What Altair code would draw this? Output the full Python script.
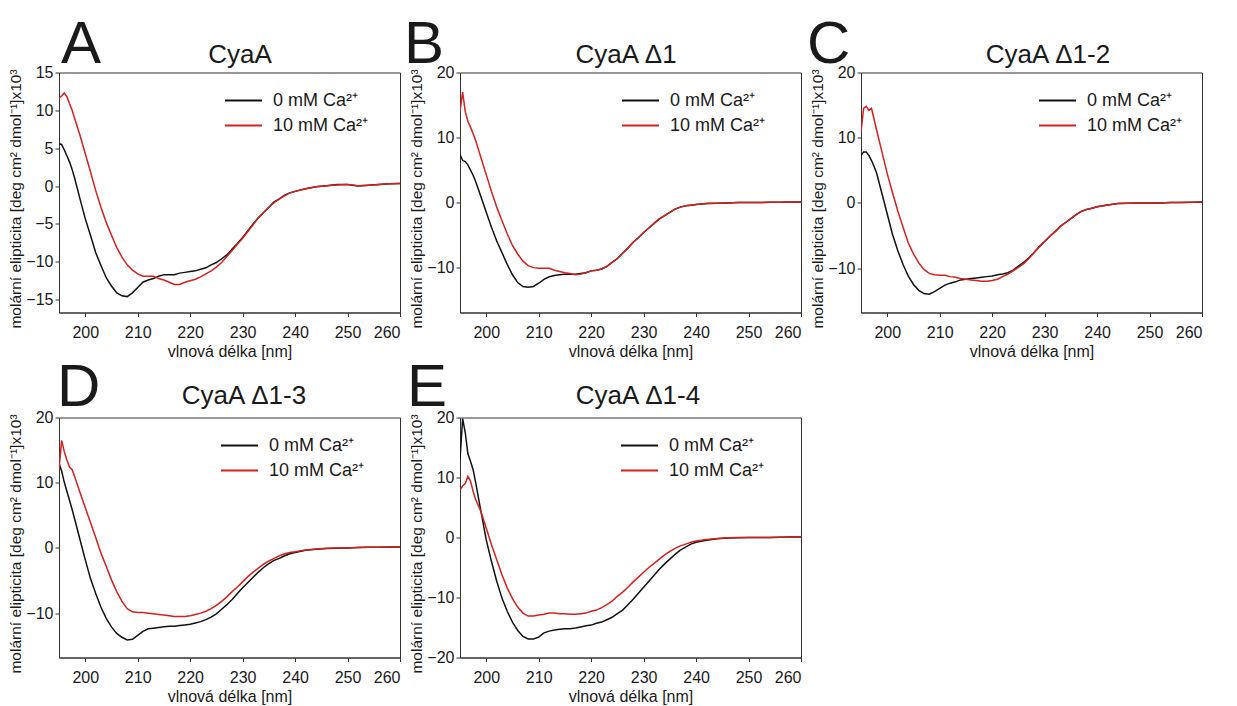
import altair as alt
import pandas as pd

FONT = "Liberation Sans"

WL = [195, 195.5, 196, 196.5, 197, 197.5,
      198, 199, 200, 201, 202, 203, 204, 205, 206, 207,
      208, 209, 210, 211, 212, 213, 214, 215, 216, 217,
      218, 219, 220, 221, 222, 223, 224, 225, 226, 227,
      228, 229, 230, 231, 232, 233, 234, 235, 236, 237,
      238, 239, 240,
      242, 244, 246, 248, 250, 252, 254, 256, 258, 260]

SERIES = ["0 mM Ca²⁺", "10 mM Ca²⁺"]
COLORS = ["#111111", "#d42020"]
XTICKS = [200, 210, 220, 230, 240, 250, 260]
XTITLE = "vlnová délka [nm]"
YTITLE = "molární elipticita [deg cm² dmol⁻¹]x10³"

# --- Panel A: CyaA ---
A0 = [5.6, 5.5, 4.8, 4.0, 3.2, 2.2,
      1.0, -1.7, -4.3, -6.5, -8.8, -10.5, -12.1, -13.2, -14.1, -14.5,
      -14.6, -14.1, -13.4, -12.7, -12.4, -12.2, -11.9, -11.7, -11.7, -11.7,
      -11.5, -11.4, -11.3, -11.2, -11.0, -10.8, -10.4, -10.1, -9.6, -9.1,
      -8.3, -7.6, -6.8, -5.9, -5.0, -4.2, -3.5, -2.8, -2.1, -1.7,
      -1.2, -0.9, -0.7,
      -0.35, -0.1, 0.05, 0.2, 0.2, 0.0, 0.1, 0.2, 0.3, 0.35]
A10 = [11.6, 11.9, 12.3, 11.8, 10.9, 10.0,
       8.9, 6.7, 4.3, 1.9, -0.6, -2.8, -4.8, -6.5, -8.1, -9.4,
       -10.4, -11.1, -11.6, -11.9, -11.9, -11.9, -12.2, -12.4, -12.7, -13.0,
       -13.0, -12.7, -12.5, -12.3, -12.0, -11.6, -11.2, -10.7, -10.1, -9.3,
       -8.5, -7.7, -6.9, -6.0, -5.1, -4.2, -3.5, -2.8, -2.2, -1.7,
       -1.3, -0.9, -0.7,
       -0.35, -0.1, 0.05, 0.15, 0.2, 0.05, 0.1, 0.2, 0.3, 0.35]

# --- Panel B: CyaA Δ1 ---
B0 = [7.4, 6.5, 6.3, 5.8, 5.0, 4.2,
      3.2, 0.9, -1.5, -3.8, -5.9, -7.7, -9.5, -11.1, -12.3, -12.9,
      -13.0, -12.9, -12.4, -11.8, -11.4, -11.2, -11.1, -11.0, -11.0, -11.0,
      -10.9, -10.8, -10.5, -10.4, -10.2, -9.8, -9.2, -8.6, -7.8, -7.0,
      -6.1, -5.4, -4.6, -3.9, -3.2, -2.5, -2.0, -1.5, -1.0, -0.7,
      -0.5, -0.4, -0.3,
      -0.15, -0.1, -0.05, 0.0, 0.0, 0.0, 0.05, 0.05, 0.1, 0.1]
B10 = [14.0, 17.0, 14.0, 12.5, 11.6, 10.6,
       9.5, 6.9, 4.3, 1.7, -0.7, -2.8, -4.8, -6.6, -7.9, -9.0,
       -9.7, -10.0, -10.1, -10.1, -10.1, -10.4, -10.6, -10.8, -10.9, -11.1,
       -11.0, -10.8, -10.5, -10.4, -10.2, -9.8, -9.2, -8.6, -7.8, -7.0,
       -6.1, -5.4, -4.6, -3.9, -3.2, -2.5, -2.0, -1.5, -1.0, -0.7,
       -0.5, -0.4, -0.3,
       -0.15, -0.1, -0.05, 0.0, 0.0, 0.0, 0.05, 0.05, 0.1, 0.1]

# --- Panel C: CyaA Δ1-2 ---
C0 = [7.3, 7.8, 7.8, 7.3, 6.5, 5.6,
      4.5, 1.4, -1.7, -4.8, -7.3, -9.4, -11.2, -12.5, -13.4, -13.9,
      -14.0, -13.6, -13.1, -12.6, -12.3, -12.1, -11.8, -11.7, -11.6, -11.5,
      -11.4, -11.3, -11.2, -11.0, -10.9, -10.7, -10.3, -9.7, -9.1, -8.4,
      -7.6, -6.7, -5.9, -5.1, -4.4, -3.6, -3.0, -2.4, -1.8, -1.3,
      -1.0, -0.8, -0.6,
      -0.3, -0.1, -0.05, 0.0, 0.0, 0.0, 0.05, 0.05, 0.1, 0.15]
C10 = [10.9, 14.5, 14.8, 14.2, 14.5, 12.8,
       11.1, 7.8, 4.5, 1.6, -1.2, -3.7, -6.1, -7.8, -9.2, -10.2,
       -10.8, -11.0, -11.1, -11.1, -11.3, -11.4, -11.6, -11.7, -11.8, -11.9,
       -12.0, -12.0, -11.9, -11.7, -11.3, -10.9, -10.4, -9.9, -9.3, -8.5,
       -7.6, -6.7, -5.9, -5.1, -4.4, -3.6, -3.0, -2.4, -1.8, -1.3,
       -1.0, -0.8, -0.6,
       -0.3, -0.1, -0.05, 0.0, 0.0, 0.0, 0.05, 0.05, 0.1, 0.15]

# --- Panel D: CyaA Δ1-3 ---
D0 = [13.0, 11.8, 10.1, 8.7, 7.3, 5.9,
      4.4, 1.3, -1.8, -4.7, -7.0, -9.1, -10.8, -12.1, -13.1, -13.7,
      -14.1, -14.0, -13.4, -12.8, -12.4, -12.3, -12.2, -12.1, -12.0, -12.0,
      -11.9, -11.8, -11.7, -11.5, -11.3, -11.0, -10.6, -10.1, -9.4, -8.7,
      -7.9, -7.0, -6.1, -5.3, -4.5, -3.7, -3.0, -2.4, -1.9, -1.6,
      -1.2, -0.9, -0.7,
      -0.35, -0.2, -0.1, -0.05, 0.0, 0.05, 0.1, 0.1, 0.15, 0.15]
D10 = [12.0, 16.5, 14.8, 13.5, 12.4, 12.0,
       10.9, 8.5, 6.2, 3.9, 1.6, -0.8, -2.8, -4.9, -6.7, -8.2,
       -9.3, -9.8, -9.9, -9.9, -10.0, -10.1, -10.2, -10.3, -10.4, -10.5,
       -10.5, -10.5, -10.4, -10.2, -10.0, -9.7, -9.3, -8.8, -8.2, -7.5,
       -6.7, -6.0, -5.2, -4.4, -3.7, -3.1, -2.5, -2.0, -1.6, -1.2,
       -0.9, -0.7, -0.6,
       -0.3, -0.15, -0.05, 0.0, 0.0, 0.05, 0.1, 0.1, 0.15, 0.15]

# --- Panel E: CyaA Δ1-4 ---
E0 = [13.0, 19.8, 17.5, 14.0, 12.7, 11.3,
      9.1, 4.3, -0.4, -4.0, -7.3, -10.1, -12.3, -14.1, -15.5, -16.5,
      -16.9, -16.9, -16.6, -15.9, -15.6, -15.4, -15.3, -15.2, -15.2, -15.1,
      -14.9, -14.7, -14.6, -14.3, -14.1, -13.7, -13.3, -12.7, -12.1, -11.2,
      -10.3, -9.3, -8.3, -7.3, -6.3, -5.3, -4.4, -3.6, -2.8, -2.1,
      -1.6, -1.1, -0.8,
      -0.45, -0.2, -0.1, -0.05, 0.0, 0.0, 0.0, 0.05, 0.1, 0.1]
E10 = [7.9, 8.6, 9.0, 10.2, 9.4, 7.7,
       6.3, 4.3, 1.6, -1.2, -3.7, -6.2, -8.4, -10.2, -11.6, -12.6,
       -13.1, -13.1, -12.9, -12.8, -12.6, -12.6, -12.7, -12.7, -12.8, -12.8,
       -12.7, -12.6, -12.3, -12.1, -11.7, -11.2, -10.6, -9.8, -9.1, -8.3,
       -7.4, -6.6, -5.8, -5.0, -4.3, -3.6, -2.9, -2.3, -1.8, -1.4,
       -1.1, -0.8, -0.6,
       -0.35, -0.15, -0.05, 0.0, 0.0, 0.0, 0.0, 0.05, 0.1, 0.1]

LETTERS = ["A", "B", "C", "D", "E"]
TITLES = ["CyaA", "CyaA Δ1", "CyaA Δ1-2", "CyaA Δ1-3", "CyaA Δ1-4"]
DATA0 = [A0, B0, C0, D0, E0]
DATA10 = [A10, B10, C10, D10, E10]
YDOMAINS = [[-16.7, 15], [-16.9, 20], [-16.8, 20], [-16.8, 20], [-20, 20]]
YTICKS = [[-15, -10, -5, 0, 5, 10, 15], [-10, 0, 10, 20], [-10, 0, 10, 20],
          [-10, 0, 10, 20], [-20, -10, 0, 10, 20]]

# layout of annotations (pixels relative to each plot area)
W, H = 341, 240
LETTER_POS = [(2, -9.5), (-56, -9.5), (-54, -9.5), (-2, -12), (-53, -12)]
TITLE_POS = [(181, -10), (166, -10), (187, -10), (185, -14), (178, -14)]
LEGEND_X = [165, 161, 177, 161, 160]


def panel(i):
    n = len(WL)
    df = pd.DataFrame({
        "wl": WL + WL,
        "val": DATA0[i] + DATA10[i],
        "series": [SERIES[0]] * n + [SERIES[1]] * n,
    })
    lines = alt.Chart(df).mark_line(strokeWidth=1.5, clip=True).encode(
        x=alt.X("wl:Q",
                scale=alt.Scale(domain=[195, 260], nice=False, zero=False),
                axis=alt.Axis(values=XTICKS, title=XTITLE, labelPadding=8,
                              titlePadding=3)),
        y=alt.Y("val:Q",
                scale=alt.Scale(domain=YDOMAINS[i], nice=False, zero=False),
                axis=alt.Axis(values=YTICKS[i], title=YTITLE, labelPadding=2,
                              titlePadding=2, titleFontSize=15.5,
                              titleY=126)),
        color=alt.Color("series:N",
                        scale=alt.Scale(domain=SERIES, range=COLORS),
                        legend=alt.Legend(
                            title=None, orient="none",
                            legendX=LEGEND_X[i], legendY=16.5,
                            symbolType="stroke", symbolSize=1369,
                            symbolStrokeWidth=2, labelFont=FONT,
                            labelFontSize=18, labelColor="#1a1a1a",
                            labelOffset=10, clipHeight=23, rowPadding=2,
                            padding=0)),
    )
    lx, ly = LETTER_POS[i]
    letter = alt.Chart(pd.DataFrame({"t": [LETTERS[i]]})).mark_text(
        font=FONT, fontSize=60, align="left", baseline="alphabetic",
        color="#1a1a1a"
    ).encode(text="t:N", x=alt.value(lx), y=alt.value(ly))
    tx, ty = TITLE_POS[i]
    title = alt.Chart(pd.DataFrame({"t": [TITLES[i]]})).mark_text(
        font=FONT, fontSize=26, align="center", baseline="alphabetic",
        color="#1a1a1a"
    ).encode(text="t:N", x=alt.value(tx), y=alt.value(ty))
    return alt.layer(lines, letter, title).properties(width=W, height=H)


chart = alt.concat(
    *[panel(i) for i in range(5)],
    columns=3,
    spacing={"row": 105, "column": 60},
    bounds="flush",
).resolve_legend(color="independent").resolve_scale(
    x="independent", y="independent"
).properties(
    padding={"left": 0, "top": 6.5, "right": 5, "bottom": 5}
).configure(font=FONT).configure_axis(
    labelFont=FONT, labelFontSize=16, labelColor="#1a1a1a",
    titleFont=FONT, titleFontSize=16, titleFontWeight="normal",
    titleColor="#1a1a1a", tickSize=4, tickColor="#333333",
    domainColor="#333333", grid=False
).configure_view(stroke="#333333", strokeWidth=1)

chart.save("out.html", embed_options={"renderer": "svg", "actions": False})
